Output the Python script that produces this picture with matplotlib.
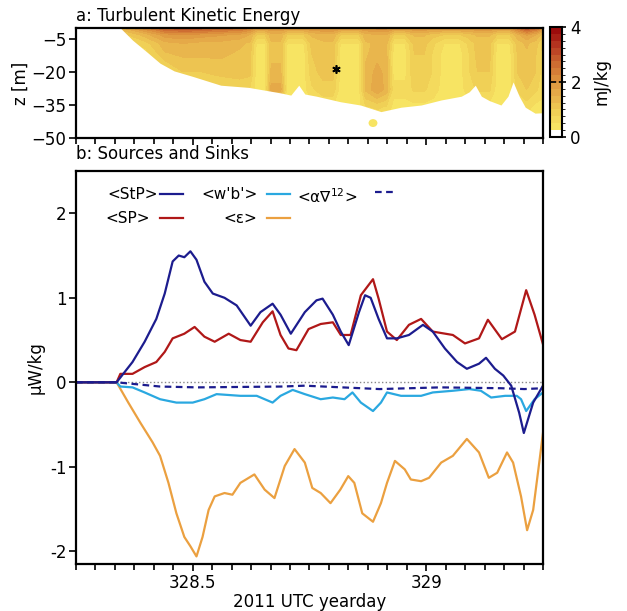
import numpy as np
import matplotlib
matplotlib.use("Agg")
import matplotlib.pyplot as plt
from matplotlib.colors import ListedColormap, BoundaryNorm, LinearSegmentedColormap
from matplotlib.ticker import MultipleLocator, FixedLocator
from matplotlib.patches import Ellipse

plt.rcParams['font.family'] = ['DejaVu Sans']
plt.rcParams['mathtext.default'] = 'regular'

# ---------------------------------------------------------------------------
# Panel a: TKE field (mJ/kg), columns = times, rows = depths
# ---------------------------------------------------------------------------
tke_t = [328.25, 328.36, 328.40, 328.44, 328.48, 328.52, 328.56, 328.60, 328.622,
         328.636, 328.655, 328.668, 328.688, 328.702, 328.738, 328.755, 328.78,
         328.80, 328.816, 328.856, 328.87, 328.895, 328.915, 328.93, 328.955,
         328.975, 328.995, 329.015, 329.038, 329.072, 329.09, 329.11, 329.135,
         329.151, 329.179, 329.195, 329.215, 329.235, 329.25]
tke_z = [0, -3, -7, -12, -20, -28, -36, -44, -50]
tke_cols = [
    [1.2, 0.8, 0.6, 0.4, 0.4, 0.4, 0.4],
    [1.6, 1.0, 0.6, 0.4, 0.4, 0.4, 0.4],
    [2.2, 1.4, 0.9, 0.6, 0.4, 0.4, 0.4],
    [2.8, 1.9, 1.4, 1.2, 0.6, 0.4, 0.4],
    [3.0, 2.0, 1.5, 1.3, 1.0, 0.6, 0.4],
    [2.9, 1.9, 1.4, 1.3, 1.0, 0.6, 0.4],
    [2.7, 1.8, 1.4, 1.3, 1.1, 0.7, 0.4],
    [2.6, 1.7, 1.3, 1.2, 1.2, 0.7, 0.4],
    [2.3, 1.5, 1.2, 1.1, 1.1, 0.7, 0.4],
    [1.9, 1.0, 0.5, 0.4, 0.4, 0.4, 0.4],
    [1.9, 1.0, 0.5, 0.4, 0.4, 0.4, 0.4],
    [2.0, 1.4, 1.2, 1.2, 1.3, 1.6, 0.6],
    [2.0, 1.4, 1.2, 1.2, 1.3, 1.6, 0.6],
    [1.9, 1.0, 0.5, 0.4, 0.4, 0.4, 0.4],
    [1.9, 1.0, 0.5, 0.4, 0.4, 0.4, 0.4],
    [2.0, 1.3, 1.1, 1.0, 0.9, 0.7, 0.4],
    [2.1, 1.4, 1.2, 1.2, 1.1, 0.9, 0.5],
    [2.1, 1.4, 1.2, 1.2, 1.1, 0.9, 0.5],
    [1.9, 1.0, 0.5, 0.4, 0.4, 0.4, 0.4],
    [1.9, 1.0, 0.5, 0.4, 0.4, 0.4, 0.4],
    [2.0, 1.4, 1.2, 1.2, 1.3, 1.3, 0.7],
    [2.1, 1.5, 1.3, 1.4, 1.6, 1.7, 0.8],
    [2.1, 1.5, 1.3, 1.3, 1.4, 1.4, 0.7],
    [1.9, 1.0, 0.5, 0.4, 0.4, 0.6, 0.4],
    [1.9, 1.0, 0.5, 0.4, 0.4, 0.6, 0.4],
    [2.0, 1.3, 1.1, 1.0, 1.0, 0.8, 0.4],
    [2.0, 1.3, 1.1, 1.0, 1.0, 0.8, 0.4],
    [1.9, 1.1, 0.8, 0.7, 0.7, 0.6, 0.4],
    [1.9, 1.0, 0.5, 0.4, 0.4, 0.4, 0.4],
    [1.9, 1.0, 0.5, 0.4, 0.4, 0.4, 0.4],
    [1.9, 1.1, 0.8, 0.7, 0.7, 0.6, 0.4],
    [2.0, 1.3, 1.1, 1.1, 1.0, 0.8, 0.4],
    [2.0, 1.3, 1.1, 1.1, 1.0, 0.8, 0.4],
    [1.9, 1.0, 0.5, 0.4, 0.4, 0.4, 0.4],
    [1.9, 1.0, 0.5, 0.4, 0.4, 0.4, 0.4],
    [2.4, 1.4, 1.1, 1.0, 1.0, 0.8, 0.4],
    [3.0, 1.8, 1.3, 1.2, 1.2, 1.0, 0.6],
    [2.6, 1.5, 1.1, 1.0, 1.0, 0.8, 0.4],
    [2.0, 1.1, 0.7, 0.6, 0.6, 0.6, 0.4],
]
# deepest two rows are pale everywhere
tke = np.array([c + [0.4, 0.4] for c in tke_cols]).T

# base of the turbulent layer (below it TKE ~ 0)
mld_t = [328.25, 328.345, 328.371, 328.405, 328.43, 328.46, 328.50, 328.56, 328.62,
         328.688, 328.71, 328.727, 328.74, 328.765, 328.816, 328.859, 328.903,
         328.946, 328.989, 329.032, 329.075, 329.092, 329.105, 329.118, 329.135,
         329.16, 329.175, 329.186, 329.199, 329.212, 329.233, 329.25]
mld_z = [0, 0, -5.5, -11.5, -16, -19.5, -22, -26, -27,
         -29.5, -30.5, -26, -30, -31, -33.5, -35, -38,
         -36, -35, -32.7, -31, -29, -26, -31, -33,
         -35, -31, -24.5, -31, -36, -38.7, -38.5]

# ---------------------------------------------------------------------------
# Panel b: TKE budget terms (uW/kg)
# ---------------------------------------------------------------------------
stp_t = [328.25, 328.337, 328.371, 328.397, 328.422, 328.44, 328.457, 328.47, 328.482,
         328.495, 328.508, 328.525, 328.543, 328.568, 328.594, 328.624, 328.645,
         328.671, 328.688, 328.71, 328.74, 328.765, 328.778, 328.80, 328.817,
         328.834, 328.856, 328.869, 328.881, 328.898, 328.916, 328.937, 328.963,
         328.993, 329.014, 329.04, 329.066, 329.087, 329.113, 329.128, 329.147,
         329.165, 329.182, 329.199, 329.209, 329.229, 329.25]
stp_v = [0, 0, 0.24, 0.48, 0.75, 1.05, 1.43, 1.50, 1.48,
         1.55, 1.45, 1.19, 1.05, 1.00, 0.91, 0.67, 0.83,
         0.93, 0.80, 0.575, 0.83, 0.97, 0.99, 0.80, 0.60,
         0.44, 0.83, 1.03, 1.00, 0.75, 0.52, 0.52, 0.56,
         0.68, 0.60, 0.40, 0.24, 0.16, 0.22, 0.29, 0.16,
         0.08, -0.04, -0.36, -0.60, -0.24, -0.04]

sp_t = [328.25, 328.337, 328.345, 328.371, 328.397, 328.422, 328.44, 328.457,
        328.482, 328.504, 328.525, 328.547, 328.577, 328.602, 328.624, 328.65,
        328.671, 328.688, 328.705, 328.722, 328.748, 328.774, 328.80, 328.817,
        328.838, 328.86, 328.886, 328.898, 328.916, 328.937, 328.963, 328.989,
        329.014, 329.057, 329.083, 329.113, 329.132, 329.162, 329.19, 329.214,
        329.232, 329.25]
sp_v = [0, 0, 0.10, 0.10, 0.18, 0.24, 0.36, 0.52,
        0.575, 0.655, 0.54, 0.48, 0.575, 0.50, 0.48, 0.71,
        0.84, 0.56, 0.40, 0.38, 0.63, 0.69, 0.71, 0.56,
        0.56, 1.03, 1.22, 0.99, 0.60, 0.50, 0.68, 0.75,
        0.60, 0.56, 0.46, 0.52, 0.74, 0.51, 0.60, 1.09,
        0.80, 0.45]

wb_t = [328.25, 328.337, 328.345, 328.371, 328.397, 328.43, 328.465, 328.50,
        328.525, 328.551, 328.602, 328.637, 328.671, 328.688, 328.714, 328.74,
        328.774, 328.80, 328.825, 328.842, 328.86, 328.886, 328.903, 328.916,
        328.946, 328.989, 329.014, 329.057, 329.092, 329.117, 329.139, 329.169,
        329.194, 329.203, 329.214, 329.232, 329.25]
wb_v = [0, 0, -0.05, -0.06, -0.12, -0.20, -0.24, -0.24,
        -0.20, -0.14, -0.16, -0.16, -0.24, -0.16, -0.09, -0.14,
        -0.20, -0.18, -0.20, -0.12, -0.24, -0.34, -0.24, -0.12,
        -0.16, -0.16, -0.12, -0.10, -0.08, -0.10, -0.18, -0.16,
        -0.16, -0.20, -0.34, -0.20, -0.12]

grad_t = [328.25, 328.337, 328.43, 328.51, 328.69, 328.74, 328.86, 328.90,
          329.03, 329.16, 329.21, 329.25]
grad_v = [0, 0, -0.05, -0.06, -0.05, -0.04, -0.07, -0.08,
          -0.06, -0.07, -0.08, -0.07]

eps_t = [328.25, 328.337, 328.362, 328.388, 328.414, 328.43, 328.448, 328.465,
         328.482, 328.495, 328.508, 328.521, 328.534, 328.547, 328.568, 328.585,
         328.602, 328.632, 328.654, 328.675, 328.697, 328.718, 328.74, 328.756,
         328.774, 328.795, 328.816, 328.833, 328.846, 328.863, 328.886, 328.903,
         328.916, 328.933, 328.954, 328.967, 328.989, 329.006, 329.032, 329.057,
         329.087, 329.113, 329.134, 329.152, 329.173, 329.186, 329.203, 329.216,
         329.229, 329.242, 329.25]
eps_v = [0, 0, -0.24, -0.48, -0.71, -0.87, -1.19, -1.55,
         -1.83, -1.94, -2.06, -1.83, -1.51, -1.35, -1.31, -1.33,
         -1.19, -1.09, -1.27, -1.37, -0.99, -0.79, -0.95, -1.25,
         -1.31, -1.43, -1.27, -1.11, -1.19, -1.55, -1.65, -1.43,
         -1.19, -0.93, -1.03, -1.15, -1.17, -1.13, -0.95, -0.87,
         -0.67, -0.83, -1.13, -1.07, -0.83, -0.95, -1.35, -1.75,
         -1.51, -0.95, -0.60]

c_stp = '#1c1c8e'
c_sp = '#b01818'
c_wb = '#2aa8e0'
c_eps = '#eba040'

xlim = (328.25, 329.25)

fig = plt.figure(figsize=(6.27, 6.11), dpi=100)
ax_a = fig.add_axes([0.1212, 0.7741, 0.7448, 0.1801])
cax = fig.add_axes([0.8772, 0.7758, 0.0191, 0.18])
ax_b = fig.add_axes([0.1212, 0.0769, 0.7448, 0.6432])

# colour scale: white below 0.25, then yellow -> dark red
levels = np.arange(0, 4.01, 0.25)
warm = LinearSegmentedColormap.from_list(
    'tke', ['#f7e463', '#efcc54', '#e6ae4a', '#dc8e3c', '#cc6830', '#b83a22', '#9c0c0c'])
cols = ['white'] + [warm(i / 14) for i in range(15)]
cmap = ListedColormap(cols)
norm = BoundaryNorm(levels, cmap.N)

cf = ax_a.contourf(tke_t, tke_z, tke, levels=levels, cmap=cmap, norm=norm)
ax_a.fill_between(mld_t, mld_z, -50, color='white', lw=0)
ax_a.add_patch(Ellipse((328.886, -43.2), 0.019, 3.6, color=warm(0.0), lw=0))
ax_a.plot(328.806, -18.6, marker=(6, 2, 0), color='k', ms=6, mew=1.2, ls='none')
ax_a.set_xlim(xlim)
ax_a.set_ylim(-50, 0)
ax_a.set_yticks([-5, -20, -35, -50])
ax_a.set_ylabel('z [m]', fontsize=12, labelpad=1)
ax_a.text(0, 1.03, 'a: Turbulent Kinetic Energy', transform=ax_a.transAxes,
          fontsize=12, va='bottom', ha='left')

cb = fig.colorbar(cf, cax=cax, ticks=[0, 2, 4])
cb.outline.set_linewidth(1.5)
cax.axhline(2, color='k', ls='--', lw=1.2)
cax.tick_params(labelsize=12, length=3, width=1.2, pad=3)
cb.set_label('mJ/kg', fontsize=12, labelpad=8)

# budget lines
ax_b.axhline(0, color='#888888', ls=':', lw=1.0, zorder=1)
ax_b.plot(eps_t, eps_v, color=c_eps, lw=1.6)
ax_b.plot(wb_t, wb_v, color=c_wb, lw=1.6)
ax_b.plot(sp_t, sp_v, color=c_sp, lw=1.6)
ax_b.plot(stp_t, stp_v, color=c_stp, lw=1.6)
ax_b.plot(grad_t, grad_v, color=c_stp, lw=1.6, ls=(0, (3, 2)))
ax_b.set_xlim(xlim)
ax_b.set_ylim(-2.15, 2.5)
ax_b.set_yticks([-2, -1, 0, 1, 2])
ax_b.set_yticklabels(['-2', '-1', '0', '1', '2'])
ax_b.set_ylabel('\u00b5W/kg', fontsize=12, labelpad=4)
ax_b.set_xlabel('2011 UTC yearday', fontsize=12, labelpad=1)
ax_b.text(0, 1.02, 'b: Sources and Sinks', transform=ax_b.transAxes,
          fontsize=12, va='bottom', ha='left')

# hand-placed legend
leg = [('<StP>', 0.176, 0.941, c_stp),
       ('<SP>', 0.158, 0.880, c_sp),
       ("<w'b'>", 0.388, 0.941, c_wb),
       ('<\u03b5>', 0.388, 0.880, c_eps)]
for lab, xr, yy, col in leg:
    ax_b.text(xr, yy, lab, transform=ax_b.transAxes, ha='right', va='center', fontsize=11)
    x0 = 0.180 if xr < 0.3 else 0.409
    ax_b.plot([x0, x0 + 0.049], [yy, yy], transform=ax_b.transAxes, color=col, lw=1.6)
ax_b.text(0.473, 0.935, '<\u03b1\u2207$^{12}$>', transform=ax_b.transAxes,
          ha='left', va='center', fontsize=11)
ax_b.plot([0.640, 0.685], [0.947, 0.947], transform=ax_b.transAxes, color=c_stp,
          lw=1.6, ls=(0, (3, 2)))

for ax in (ax_a, ax_b):
    ax.xaxis.set_major_locator(FixedLocator([328.5, 329]))
    ax.xaxis.set_minor_locator(MultipleLocator(1 / 24))
    ax.tick_params(which='both', direction='out', width=1.2, labelsize=12, pad=2)
    ax.tick_params(which='major', length=5)
    ax.tick_params(which='minor', length=4)
    for s in ax.spines.values():
        s.set_linewidth(1.6)
ax_b.set_xticklabels(['328.5', '329'])
ax_a.set_xticklabels([])

fig.savefig('out.png', dpi=100)
